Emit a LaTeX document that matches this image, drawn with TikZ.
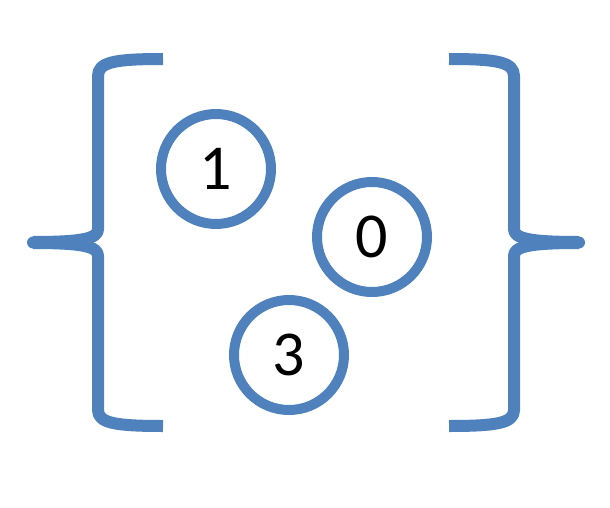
\documentclass[tikz,border=0pt]{standalone}
\usepackage{fontspec}
\setmainfont{Carlito}
\usepackage{xcolor}
\usetikzlibrary{positioning}
\definecolor{setblue}{HTML}{4F81BD}

\begin{document}
\begin{tikzpicture}[x=1pt,y=-1pt,
   ball/.style={circle,draw=setblue,line width=10pt,minimum size=110pt,inner sep=0pt,
   font=\fontsize{64}{64}\selectfont},
   brc/.style={draw=setblue,line width=12pt,line join=round}]
 \useasboundingbox (0,0) rectangle (610,508);

 % the elements
 \node[ball] (n1) at (216,169) {1};
 \node[ball] (n0) at (372,237) {0};
 \node[ball] (n3) at (289,355) {3};

 % left brace
 \draw[brc] (163,59) .. controls (115,59) and (98,62) .. (98,76) -- (98,229)
   .. controls (98,238) and (85,242) .. (33,242);
 \draw[brc] (163,426) .. controls (115,426) and (98,423) .. (98,410) -- (98,256)
   .. controls (98,247) and (85,243) .. (33,243);
 \fill[setblue] (33,242.5) circle (6pt);

 % right brace
 \draw[brc] (449,59) .. controls (497,59) and (514,62) .. (514,76) -- (514,229)
   .. controls (514,238) and (527,242) .. (579,242);
 \draw[brc] (449,426) .. controls (497,426) and (514,423) .. (514,410) -- (514,256)
   .. controls (514,247) and (527,243) .. (579,243);
 \fill[setblue] (579,242.5) circle (6pt);
\end{tikzpicture}
\end{document}
